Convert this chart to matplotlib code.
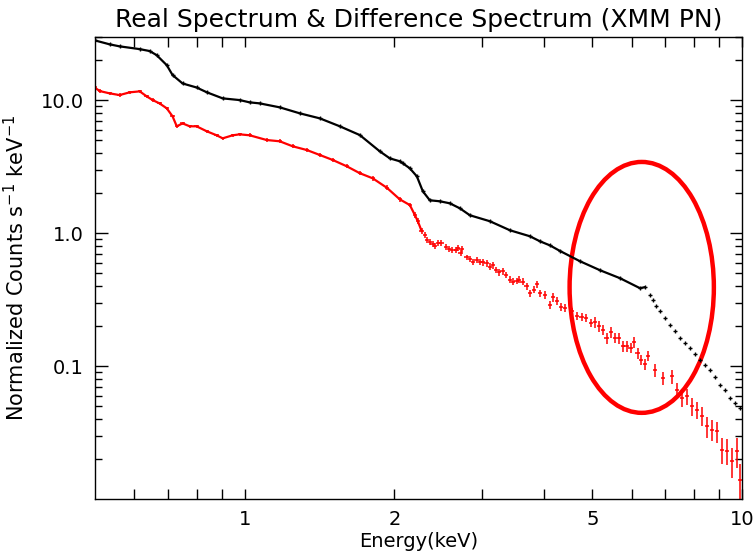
import numpy as np
import matplotlib
matplotlib.use("Agg")
import matplotlib.pyplot as plt
from matplotlib.patches import Ellipse
from matplotlib.ticker import FixedLocator, FixedFormatter, NullFormatter

# real spectrum (keV, counts/s/keV)
black_e = [0.499, 0.535, 0.560, 0.615, 0.644, 0.665, 0.697, 0.716, 0.750, 0.800,
           0.839, 0.903, 0.977, 1.023, 1.072, 1.176, 1.290, 1.416, 1.553, 1.704,
           1.868, 1.958, 2.050, 2.079, 2.148, 2.219, 2.281, 2.356, 2.468, 2.585,
           2.708, 2.836, 3.112, 3.414, 3.745, 3.923, 4.110, 4.304, 4.721, 5.180,
           5.683, 6.234, 6.380, 6.529, 6.621, 6.714, 6.839, 7.003, 7.164, 7.333,
           7.503, 7.680, 7.857, 8.041, 8.234, 8.427, 8.624, 8.827, 9.030, 9.243,
           9.461, 9.681, 9.908]
black_f = [28.3, 26.4, 25.5, 24.3, 23.5, 21.9, 18.4, 15.5, 13.4, 12.5,
           11.5, 10.35, 10.05, 9.66, 9.49, 8.86, 7.99, 7.32, 6.38, 5.48,
           4.14, 3.66, 3.48, 3.36, 3.08, 2.68, 2.07, 1.77, 1.74, 1.68,
           1.54, 1.366, 1.231, 1.053, 0.949, 0.87, 0.81, 0.736, 0.616, 0.527,
           0.459, 0.386, 0.393, 0.344, 0.314, 0.283, 0.259, 0.2296, 0.203, 0.1833,
           0.162, 0.1489, 0.137, 0.1231, 0.111, 0.1017, 0.0933, 0.0827, 0.0720, 0.0660,
           0.0574, 0.0527, 0.0483]

# difference spectrum
red_e = [0.499, 0.511, 0.535, 0.560, 0.587, 0.615, 0.635, 0.653, 0.674, 0.697,
         0.716, 0.730, 0.750, 0.775, 0.800, 0.839, 0.878, 0.903, 0.946, 0.977,
         1.023, 1.107, 1.176, 1.249, 1.333, 1.416, 1.503, 1.604, 1.704,
         1.809, 1.931, 2.050, 2.148,
         2.198, 2.229,
         2.268, 2.302, 2.327, 2.356, 2.386, 2.412, 2.448, 2.487, 2.537, 2.577,
         2.617, 2.658, 2.687, 2.716, 2.729, 2.793, 2.836, 2.880, 2.925, 2.971,
         3.017, 3.065, 3.112, 3.160, 3.199, 3.249, 3.300, 3.351, 3.414, 3.467,
         3.521, 3.564, 3.621, 3.689, 3.745, 3.815, 3.874, 3.920,
         4.014, 4.110, 4.173, 4.250, 4.323, 4.405, 4.556, 4.662, 4.759, 4.854, 4.968,
         5.061, 5.156, 5.259, 5.343, 5.450, 5.552, 5.656, 5.770, 5.861, 5.971,
         6.062, 6.168, 6.264, 6.380, 6.479,
         6.682, 6.935, 7.230, 7.399, 7.572, 7.749, 7.930, 8.121, 8.311, 8.505,
         8.704, 8.905, 9.115, 9.329, 9.548, 9.771, 9.908]
red_f = [12.5, 11.75, 11.29, 10.96, 11.49, 11.69, 10.72, 10.05, 9.49, 8.71,
         7.58, 6.38, 6.71, 6.38, 6.38, 5.85, 5.46, 5.18, 5.46, 5.55,
         5.46, 5.03, 4.92, 4.51, 4.23, 3.88, 3.56, 3.19, 2.83,
         2.59, 2.20, 1.80, 1.63,
         1.373, 1.231,
         1.041, 0.971, 0.890, 0.866, 0.827, 0.808, 0.851, 0.841, 0.794, 0.762,
         0.749, 0.749, 0.771, 0.707, 0.762, 0.657, 0.641, 0.605, 0.630, 0.605,
         0.605, 0.595, 0.562, 0.572, 0.530, 0.509, 0.520, 0.486, 0.446, 0.433,
         0.438, 0.446, 0.433, 0.398, 0.354, 0.375, 0.414, 0.354,
         0.344, 0.289, 0.329, 0.310, 0.278, 0.276, 0.258, 0.239, 0.236, 0.230, 0.211,
         0.214, 0.199, 0.187, 0.162, 0.180, 0.164, 0.162, 0.141, 0.141, 0.137,
         0.151, 0.125, 0.1115, 0.1035, 0.120,
         0.0938, 0.0813, 0.0841, 0.0664, 0.0574, 0.0595, 0.0500, 0.0469, 0.0421, 0.0354,
         0.0332, 0.0324, 0.0235, 0.0230, 0.0193, 0.0230, 0.0140]
# fractional 1-sigma errors
red_relerr = [0.03] * 20 + [0.035] * 9 + [0.04] * 4 + [0.05] * 2 + \
             [0.05] * 20 + [0.06] * 18 + [0.07] * 11 + [0.09] * 15 + \
             [0.11, 0.12, 0.12, 0.13, 0.14, 0.14, 0.15, 0.15, 0.16, 0.18,
              0.18, 0.18, 0.22, 0.22, 0.25, 0.25, 0.30]

black_e = np.array(black_e)
black_f = np.array(black_f)
red_e = np.array(red_e)
red_f = np.array(red_f)
red_err = red_f * np.array(red_relerr)

fig = plt.figure(figsize=(7.56, 5.60), dpi=100)
ax = fig.add_axes([0.1257, 0.1089, 0.8558, 0.8251])

dense = black_e <= 6.4
ax.plot(black_e[dense], black_f[dense], '-', color='black', lw=1.6)
ax.plot(black_e, black_f, '+', color='black', ms=2.5, mew=1.0)

rd = red_e <= 2.3
ax.plot(red_e[rd], red_f[rd], '-', color='red', lw=1.6)
ax.errorbar(red_e, red_f, yerr=red_err, xerr=red_e * 0.010, fmt='none',
            ecolor='red', elinewidth=1.1, capsize=0)

ax.set_xscale('log')
ax.set_yscale('log')
ax.set_xlim(0.5, 10)
ax.set_ylim(0.01, 30)

ax.xaxis.set_major_locator(FixedLocator([1, 2, 5, 10]))
ax.xaxis.set_major_formatter(FixedFormatter(['1', '2', '5', '10']))
ax.xaxis.set_minor_locator(FixedLocator([0.6, 0.7, 0.8, 0.9, 3, 4, 6, 7, 8, 9]))
ax.xaxis.set_minor_formatter(NullFormatter())
ax.yaxis.set_major_locator(FixedLocator([0.1, 1, 10]))
ax.yaxis.set_major_formatter(FixedFormatter(['0.1', '1.0', '10.0']))
ax.yaxis.set_minor_locator(FixedLocator(
    [k * 10.0 ** d for d in (-2, -1, 0, 1) for k in range(2, 10)]))
ax.yaxis.set_minor_formatter(NullFormatter())

ax.tick_params(which='both', direction='in', top=True, right=True,
               labelsize=14, width=1.0, pad=8)
ax.tick_params(axis='x', which='both', length=7)
ax.tick_params(axis='y', which='major', length=9)
ax.tick_params(axis='y', which='minor', length=5)
for s in ax.spines.values():
    s.set_linewidth(1.0)

ax.set_title('Real Spectrum & Difference Spectrum (XMM PN)', fontsize=18, pad=7)
ax.set_xlabel('Energy(keV)', fontsize=14, labelpad=2)
ax.set_ylabel('Normalized Counts s$^{-1}$ keV$^{-1}$', fontsize=15, labelpad=9)

ell = Ellipse((0.845, 0.458), 0.223, 0.543, transform=ax.transAxes,
              fill=False, edgecolor='red', lw=3.2)
ax.add_patch(ell)

fig.savefig('out.png', dpi=100)
